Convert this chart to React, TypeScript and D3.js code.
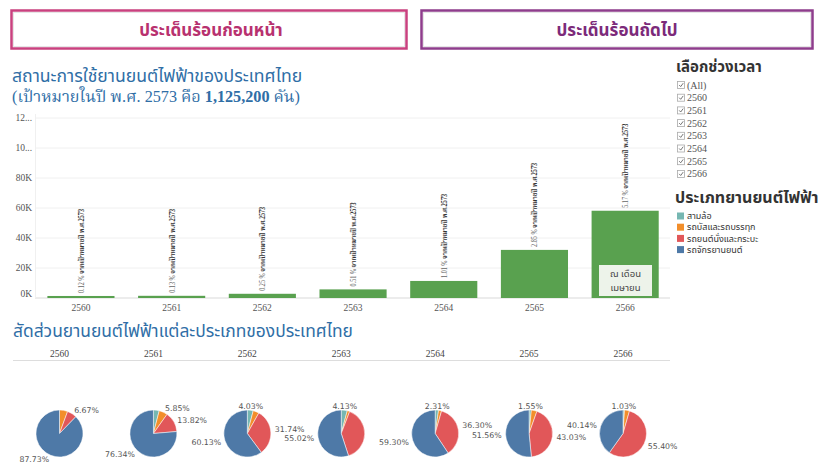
import React from 'react';
import * as d3 from 'd3';

const years = ['2560', '2561', '2562', '2563', '2564', '2565', '2566'];
const evCounts = [1350, 1460, 2810, 5740, 11370, 32070, 58170];
const pctLabels = ['0.12 %', '0.13 %', '0.25 %', '0.51 %', '1.01 %', '2.85 %', '5.17 %'];
const yTicks = [0, 20000, 40000, 60000, 80000, 100000, 120000];
const yTickLabels = ['0K', '20K', '40K', '60K', '80K', '10...', '12...'];
const typeNames = ['สามล้อ', 'รถบัสและรถบรรทุก', 'รถยนต์นั่งและกระบะ', 'รถจักรยานยนต์'];
const typeColors = ['#76b7b2', '#f28e2b', '#e15759', '#4e79a7'];
const shareTricycle = [0, 3.99, 4.03, 4.13, 2.31, 1.55, 1.03];
const shareBusTruck = [5.6, 5.85, 4.1, 1.7, 2.09, 3.86, 3.43];
const shareCar = [6.67, 13.82, 31.74, 39.15, 36.3, 43.03, 55.4];
const shareMotorcycle = [87.73, 76.34, 60.13, 55.02, 59.3, 51.56, 40.14];
const shownLabels = [[2, 3], [1, 2, 3], [0, 2, 3], [0, 3], [0, 2, 3], [0, 2, 3], [0, 2, 3]];
const filterItems = ['(All)', ...years];

const thaiSans = "Tahoma, 'Noto Sans Thai', 'Noto Sans', 'DejaVu Sans', sans-serif";
const thaiSerif = "'Times New Roman', 'Liberation Serif', 'Noto Serif Thai', 'Noto Sans Thai', serif";

type PieLabel = { x: number; y: number; anchor: string; text: string; w: number };

export default function App() {
  const x = d3.scaleBand<string>().domain(years).range([35.6, 670.5]).paddingInner(0.26).paddingOuter(0.13);
  const y = d3.scaleLinear().domain([0, 120000]).range([298, 118]);
  const px = d3.scalePoint<string>().domain(years).range([59.5, 623]);
  const pieCy = 433.5;
  const r = 23.5;
  const pie = d3.pie<number>().sort(null).value((d) => d);
  const arc = d3.arc<d3.PieArcDatum<number>>().innerRadius(0).outerRadius(r);

  const pieData = years.map((yr, i) => {
    const vals = [shareTricycle[i], shareBusTruck[i], shareCar[i], shareMotorcycle[i]];
    return { yr, vals, arcs: pie(vals), cx: px(yr)! };
  });

  const labels: PieLabel[] = [];
  const boxOf = (l: PieLabel) => {
    const x0 = l.anchor === 'start' ? l.x : l.anchor === 'end' ? l.x - l.w : l.x - l.w / 2;
    return { x0, x1: x0 + l.w, y0: l.y - 8, y1: l.y + 1 };
  };
  const pending: PieLabel[] = [];
  pieData.forEach((p, i) => {
    shownLabels[i].forEach((j) => {
      const a = p.arcs[j];
      const ang = (a.startAngle + a.endAngle) / 2;
      const s = Math.sin(ang);
      const c = Math.cos(ang);
      const anchor = s > 0.35 ? 'start' : s < -0.35 ? 'end' : 'middle';
      const text = p.vals[j].toFixed(2) + '%';
      pending.push({ x: p.cx + (r + 4) * s, y: pieCy - (r + 4.5) * c + 3, anchor, text, w: text.length * 4.5 });
    });
  });
  const fixed = pending.filter((l) => l.anchor !== 'start');
  const movable = pending.filter((l) => l.anchor === 'start');
  fixed.forEach((l) => labels.push(l));
  movable.forEach((l) => {
    let guard = 0;
    while (guard < 40) {
      const b = boxOf(l);
      const hit = labels.find((o) => {
        const ob = boxOf(o);
        return b.x0 < ob.x1 && b.x1 > ob.x0 && b.y0 < ob.y1 && b.y1 > ob.y0;
      });
      if (!hit) break;
      l.y -= 1;
      guard++;
    }
    labels.push(l);
  });

  return (
    <svg width={824} height={462} style={{ position: 'absolute', left: 0, top: 0, background: '#fff' }}>
      {/* Top buttons */}
      <rect x={11.5} y={10.5} width={395} height={38} fill="#fff" stroke="#c9417f" strokeWidth={2.5} />
      <rect x={13.5} y={12.5} width={391} height={34} fill="none" stroke="#e6e6e6" strokeWidth={1} />
      <text x={211} y={36} textAnchor="middle" fontFamily={thaiSans} fontWeight="bold" fontSize={17} fill="#b8316f">ประเด็นร้อนก่อนหน้า</text>
      <rect x={421.5} y={10.5} width={391} height={38} fill="#fff" stroke="#8e3d8c" strokeWidth={2.5} />
      <rect x={423.5} y={12.5} width={387} height={34} fill="none" stroke="#e6e6e6" strokeWidth={1} />
      <text x={617} y={36} textAnchor="middle" fontFamily={thaiSans} fontWeight="bold" fontSize={17} fill="#7c2a7a">ประเด็นร้อนถัดไป</text>

      {/* Title */}
      <text x={12} y={82} fontFamily={thaiSans} fontSize={17.6} fill="#2f6ea6">สถานะการใช้ยานยนต์ไฟฟ้าของประเทศไทย</text>
      <text x={12} y={102} fontFamily={thaiSerif} fontSize={16.2} fill="#2f6ea6">
        (เป้าหมายในปี พ.ศ. 2573 คือ <tspan fontWeight="bold">1,125,200</tspan> คัน)
      </text>

      {/* Grid */}
      {yTicks.map((t, i) => (
        <g key={t}>
          <line x1={35} x2={670} y1={y(t)} y2={y(t)} stroke={t === 0 ? '#d9d9d9' : '#f0f0f0'} strokeWidth={1} />
          <text x={32} y={y(t) + (t === 0 ? -1 : 3)} textAnchor="end" fontFamily={thaiSerif} fontSize={9.5} fill="#555">{yTickLabels[i]}</text>
        </g>
      ))}
      <line x1={35.5} x2={35.5} y1={114} y2={298} stroke="#f0f0f0" />

      {/* Bars */}
      {years.map((yr, i) => {
        const bx = x(yr)!;
        const bw = x.bandwidth();
        const top = y(evCounts[i]);
        const cx = bx + bw / 2;
        return (
          <g key={yr}>
            <rect x={bx} y={top} width={bw} height={298 - top} fill="#59a14f" />
            <text transform={`translate(${cx + 3},${top - 3}) rotate(-90)`} fontFamily={thaiSerif} fontSize={7.5} fill="#444" textLength={84} lengthAdjust="spacingAndGlyphs">
              <tspan fill="#666">{pctLabels[i]} </tspan>
              <tspan fontWeight="bold" fill="#333">จากเป้าหมายปี พ.ศ.2573</tspan>
            </text>
            <text x={cx} y={311} textAnchor="middle" fontFamily={thaiSerif} fontSize={9.5} fill="#555">{yr}</text>
          </g>
        );
      })}
      {/* Note box in last bar */}
      <rect x={599} y={265} width={53} height={31} fill="#edf3ea" />
      <text x={625.5} y={277} textAnchor="middle" fontFamily={thaiSans} fontSize={9.5} fill="#444">ณ เดือน</text>
      <text x={625.5} y={291} textAnchor="middle" fontFamily={thaiSans} fontSize={9.5} fill="#444">เมษายน</text>

      {/* Second title */}
      <text x={13} y={337} fontFamily={thaiSans} fontSize={17.4} fill="#2f6ea6">สัดส่วนยานยนต์ไฟฟ้าแต่ละประเภทของประเทศไทย</text>
      {years.map((yr) => (
        <text key={yr} x={px(yr)!} y={357} textAnchor="middle" fontFamily={thaiSerif} fontSize={9.5} fill="#444">{yr}</text>
      ))}
      <line x1={13} x2={670} y1={360.5} y2={360.5} stroke="#ddd" />

      {/* Pies */}
      {pieData.map((p) => (
        <g key={p.yr} transform={`translate(${p.cx},${pieCy})`}>
          {p.arcs.map((a, j) => (
            <path key={j} d={arc(a) || ''} fill={typeColors[j]} stroke="#fff" strokeWidth={0.5} />
          ))}
        </g>
      ))}
      {labels.map((l, k) => (
        <text key={'pl' + k} x={l.x} y={l.y} textAnchor={l.anchor} fontFamily="'DejaVu Sans', sans-serif" fontSize={7.8} fill="#555">
          {l.text}
        </text>
      ))}

      {/* Right panel: filter */}
      <text x={676} y={72} fontFamily={thaiSans} fontWeight="bold" fontSize={15} fill="#333">เลือกช่วงเวลา</text>
      {filterItems.map((it, i) => {
        const yy = 85 + i * 12.7;
        return (
          <g key={it}>
            <rect x={677.5} y={yy - 3.5} width={7} height={7} fill="#fff" stroke="#aaa" strokeWidth={0.8} />
            <path d={`M679.2,${yy} L680.7,${yy + 1.6} L683.2,${yy - 1.8}`} fill="none" stroke="#666" strokeWidth={0.9} />
            <text x={687} y={yy + 3.5} fontFamily={thaiSerif} fontSize={10} fill="#555">{it}</text>
          </g>
        );
      })}

      {/* Legend */}
      <text x={675} y={203} fontFamily={thaiSans} fontWeight="bold" fontSize={16} fill="#333">ประเภทยานยนต์ไฟฟ้า</text>
      {typeNames.map((n, i) => {
        const yy = 216 + i * 11.2;
        return (
          <g key={n}>
            <rect x={677} y={yy - 3.5} width={7} height={7} fill={typeColors[i]} />
            <text x={687} y={yy + 3.2} fontFamily={thaiSans} fontSize={9} fill="#333">{n}</text>
          </g>
        );
      })}
    </svg>
  );
}
